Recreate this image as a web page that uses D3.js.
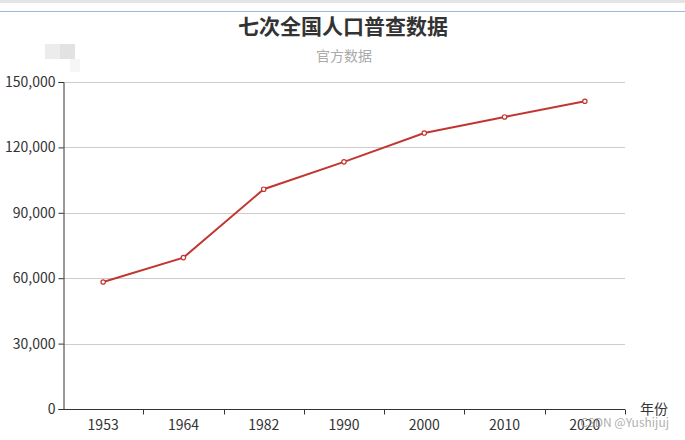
<!DOCTYPE html>
<html lang="zh">
<head>
    <meta charset="UTF-8">
    <title>七次全国人口普查数据</title>
    <script src="https://d3js.org/d3.v7.min.js"></script>
    <style>
        body { margin: 0; background: #fff; }
        svg { display: block; font-family: "Noto Sans CJK SC", "Noto Sans", sans-serif; }
    </style>
</head>
<body>
    <svg id="chart" width="685" height="440"></svg>
    <script>
        // 年份 / 人口（万人）
        const years = ["1953", "1964", "1982", "1990", "2000", "2010", "2020"];
        const population = [58260, 69458, 100818, 113368, 126583, 133972, 141178];
        const yTicks = [0, 30000, 60000, 90000, 120000, 150000];

        const svg = d3.select("#chart");
        const plotLeft = 63, plotRight = 625, plotTop = 82, plotBottom = 409;
        const red = "#c23531";

        // browser chrome strip at the top
        svg.append("rect").attr("x", 0).attr("y", 0).attr("width", 685).attr("height", 3).attr("fill", "#e4e4e4");
        svg.append("line").attr("x1", 0).attr("x2", 685).attr("y1", 11.5).attr("y2", 11.5)
            .attr("stroke", "#9db7e0").attr("stroke-width", 1);

        // blurred legend patch
        svg.append("rect").attr("x", 45).attr("y", 44).attr("width", 15).attr("height", 15).attr("fill", "#ececec");
        svg.append("rect").attr("x", 60).attr("y", 44).attr("width", 15).attr("height", 15).attr("fill", "#e2e2e2");
        svg.append("rect").attr("x", 70).attr("y", 59).attr("width", 10).attr("height", 13).attr("fill", "#f6f6f6");

        const x = d3.scaleBand().domain(years).range([plotLeft, plotRight]);
        const y = d3.scaleLinear().domain([0, 150000]).range([plotBottom, plotTop]);

        // grid
        svg.append("g").selectAll("line")
            .data(yTicks.filter(d => d > 0))
            .enter().append("line")
            .attr("x1", plotLeft).attr("x2", plotRight)
            .attr("y1", d => Math.round(y(d)) + 0.5)
            .attr("y2", d => Math.round(y(d)) + 0.5)
            .attr("stroke", "#ccc");

        // y axis
        const yAxis = svg.append("g")
            .attr("transform", `translate(${plotLeft + 0.5},0)`)
            .call(d3.axisLeft(y).tickValues(yTicks).tickSize(5).tickPadding(3).tickFormat(d3.format(",")));
        yAxis.select(".domain").attr("stroke", "#333");
        yAxis.selectAll(".tick line").attr("stroke", "#333");
        yAxis.selectAll("text").attr("fill", "#333").attr("font-size", 14)
            .attr("font-family", "\"Noto Sans CJK SC\", sans-serif");

        // x axis, ticks on band edges
        const xg = svg.append("g").attr("transform", `translate(0,${plotBottom + 0.5})`);
        xg.append("line").attr("x1", plotLeft).attr("x2", plotRight).attr("stroke", "#333");
        xg.selectAll("line.tk")
            .data(years)
            .enter().append("line")
            .attr("class", "tk")
            .attr("x1", (d, i) => Math.round(plotLeft + x.step() * (i + 1)) + 0.5)
            .attr("x2", (d, i) => Math.round(plotLeft + x.step() * (i + 1)) + 0.5)
            .attr("y1", 0).attr("y2", 5)
            .attr("stroke", "#333");
        xg.selectAll("text")
            .data(years)
            .enter().append("text")
            .attr("x", d => x(d) + x.bandwidth() / 2)
            .attr("y", 20)
            .attr("text-anchor", "middle")
            .attr("font-size", 14)
            .attr("fill", "#333")
            .text(d => d);

        svg.append("text").attr("x", 640).attr("y", 414)
            .attr("font-size", 14).attr("fill", "#333").text("年份");

        // line
        const pts = years.map((d, i) => [x(d) + x.bandwidth() / 2, y(population[i])]);
        svg.append("path")
            .datum(pts)
            .attr("d", d3.line())
            .attr("fill", "none")
            .attr("stroke", red)
            .attr("stroke-width", 2);

        svg.selectAll("circle")
            .data(pts)
            .enter().append("circle")
            .attr("cx", d => d[0]).attr("cy", d => d[1])
            .attr("r", 2.2)
            .attr("fill", "#fff")
            .attr("stroke", red)
            .attr("stroke-width", 1.2);

        // titles
        svg.append("text").attr("x", 343).attr("y", 34)
            .attr("text-anchor", "middle").attr("font-size", 21).attr("font-weight", "bold")
            .attr("fill", "#333").text("七次全国人口普查数据");
        svg.append("text").attr("x", 344).attr("y", 61)
            .attr("text-anchor", "middle").attr("font-size", 14)
            .attr("fill", "#aaa").text("官方数据");

        // watermark
        svg.append("text").attr("x", 669).attr("y", 427)
            .attr("text-anchor", "end").attr("font-size", 12)
            .attr("fill", "#999").attr("fill-opacity", 0.8).text("CSDN @Yushijuj");
    </script>
</body>
</html>
